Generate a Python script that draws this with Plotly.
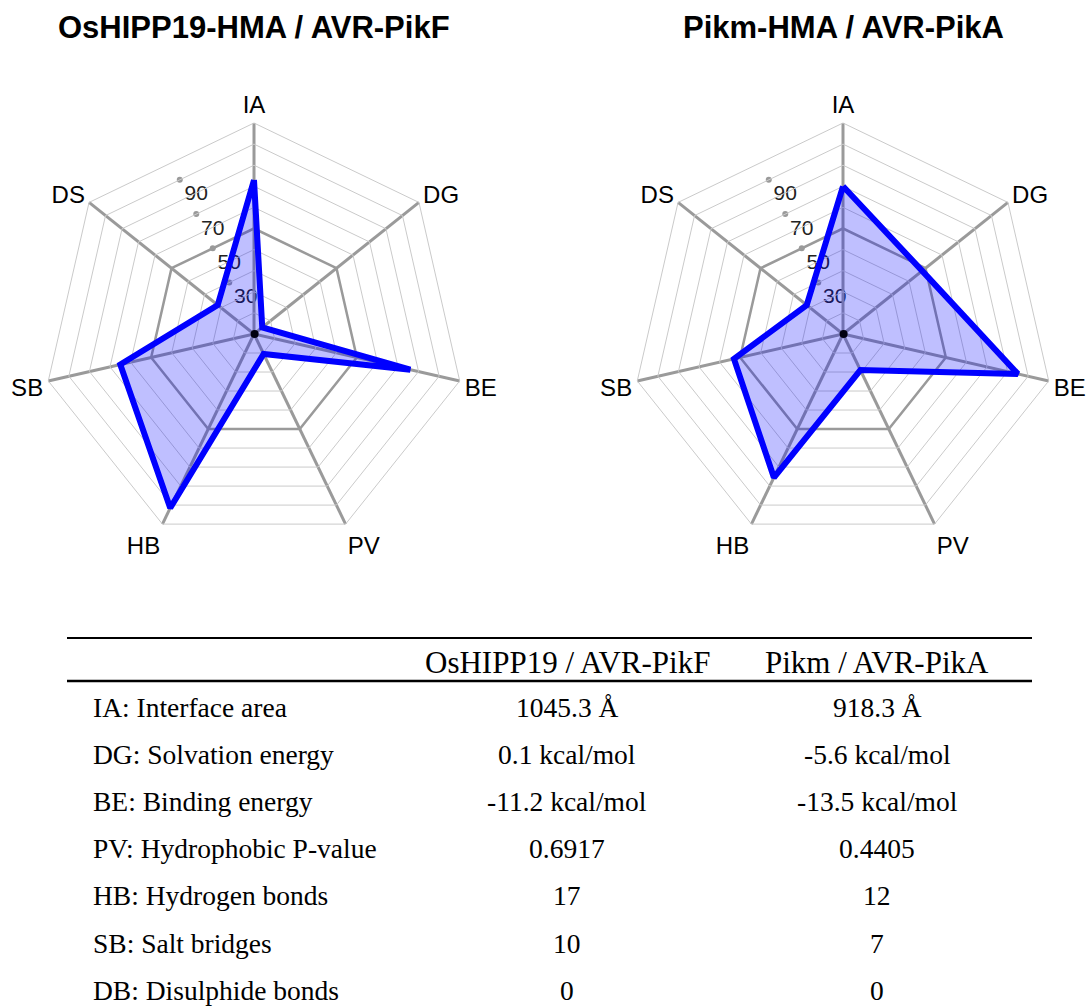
import math
import plotly.graph_objects as go

# Radar axes (clockwise from the top)
axes = ["IA", "DG", "BE", "PV", "HB", "SB", "DS"]

# Normalised interface scores (0-100) for each complex
oshipp19_scores = [73, 5, 76, 10.5, 91.5, 65, 22]
pikm_scores = [70, 48, 85, 19, 75.5, 53, 22]

panel_titles = ["OsHIPP19-HMA / AVR-PikF", "Pikm-HMA / AVR-PikA"]

# Radial grid
ring_levels = [10, 20, 30, 40, 60, 70, 80, 90]
major_ring = 50
radial_ticks = [30, 50, 70, 90]

# Table contents
table_header = ["", "OsHIPP19 / AVR-PikF", "Pikm / AVR-PikA"]
row_labels = [
    "IA: Interface area",
    "DG: Solvation energy",
    "BE: Binding energy",
    "PV: Hydrophobic P-value",
    "HB: Hydrogen bonds",
    "SB: Salt bridges",
    "DB: Disulphide bonds",
]
oshipp19_values = ["1045.3 Å", "0.1 kcal/mol", "-11.2 kcal/mol", "0.6917", "17", "10", "0"]
pikm_values = ["918.3 Å", "-5.6 kcal/mol", "-13.5 kcal/mol", "0.4405", "12", "7", "0"]

W, H = 1089, 1007
RADIUS = 211
CENTER_Y = 334
CENTERS_X = [254, 843]

SPOKE = "#9a9a9a"
THIN = "#cacaca"
ARIAL = "Arial, Liberation Sans, sans-serif"

n = len(axes)
# the radial scale is labelled half-way between the IA and DS spokes,
# where the polygonal rings are pulled in by cos(pi/n)
label_angle = 90 + 180 / n
edge_factor = math.cos(math.pi / n)
# tiny negative floor so the pole marker at r=0 sits inside the scale
scale_floor = -0.3

fig = go.Figure()


def closed(values):
    return list(values) + [values[0]]


theta_closed = closed(axes)
label_subplots = ["polar", "polar2"]
chart_subplots = ["polar3", "polar4"]

# Radial scale labels and pole marker
for sub in label_subplots:
    fig.add_trace(go.Scatterpolar(
        r=radial_ticks, theta=[label_angle] * len(radial_ticks),
        mode="markers+text", text=[str(t) for t in radial_ticks],
        textposition="bottom right",
        textfont=dict(family=ARIAL, size=21, color="#222"),
        marker=dict(color=SPOKE, size=6), hoverinfo="skip",
        showlegend=False, subplot=sub, cliponaxis=False))

for i, scores in enumerate([oshipp19_scores, pikm_scores]):
    sub = chart_subplots[i]
    for lvl in ring_levels:
        fig.add_trace(go.Scatterpolar(
            r=[lvl] * len(theta_closed), theta=theta_closed, mode="lines",
            line=dict(color=THIN, width=1), hoverinfo="skip", showlegend=False,
            subplot=sub))
    fig.add_trace(go.Scatterpolar(
        r=[major_ring] * len(theta_closed), theta=theta_closed, mode="lines",
        line=dict(color=SPOKE, width=2.5), hoverinfo="skip", showlegend=False,
        subplot=sub))
    fig.add_trace(go.Scatterpolar(
        r=closed(scores), theta=theta_closed, mode="lines", fill="toself",
        fillcolor="rgba(0,0,255,0.25)", line=dict(color="#0000ff", width=6),
        showlegend=False, subplot=sub, name=panel_titles[i]))

# pole marker, on top of everything
for sub in ["polar5", "polar6"]:
    fig.add_trace(go.Scatterpolar(
        r=[0], theta=[0], mode="markers",
        marker=dict(color="#000010", size=8), hoverinfo="skip",
        showlegend=False, subplot=sub))

chart_polar = dict(
    gridshape="linear",
    bgcolor="rgba(0,0,0,0)",
    angularaxis=dict(
        type="category", categoryarray=axes, rotation=90, direction="clockwise",
        showgrid=True, gridcolor=SPOKE, gridwidth=2.5,
        showline=True, linecolor=THIN, linewidth=1, ticks="",
        tickfont=dict(family=ARIAL, size=24, color="#000"),
    ),
    radialaxis=dict(range=[0, 100], showgrid=False, showline=False,
                    showticklabels=False, ticks=""),
)

label_polar = dict(
    bgcolor="rgba(0,0,0,0)",
    angularaxis=dict(visible=False, rotation=0, direction="counterclockwise"),
    radialaxis=dict(range=[0, 100 / edge_factor], visible=False),
)

pole_polar = dict(
    bgcolor="rgba(0,0,0,0)",
    angularaxis=dict(visible=False),
    radialaxis=dict(range=[scale_floor, 100], visible=False),
)


def domain(cx):
    return dict(
        x=[(cx - RADIUS) / W, (cx + RADIUS) / W],
        y=[1 - (CENTER_Y + RADIUS) / H, 1 - (CENTER_Y - RADIUS) / H],
    )


fig.update_layout(
    width=W, height=H, margin=dict(l=0, r=0, t=0, b=0),
    paper_bgcolor="white", plot_bgcolor="white",
    polar=dict(domain=domain(CENTERS_X[0]), **label_polar),
    polar2=dict(domain=domain(CENTERS_X[1]), **label_polar),
    polar3=dict(domain=domain(CENTERS_X[0]), **chart_polar),
    polar4=dict(domain=domain(CENTERS_X[1]), **chart_polar),
    polar5=dict(domain=domain(CENTERS_X[0]), **pole_polar),
    polar6=dict(domain=domain(CENTERS_X[1]), **pole_polar),
)

annotations = []
for cx, title in zip(CENTERS_X, panel_titles):
    annotations.append(dict(
        text=f"<b>{title}</b>", x=cx / W, y=1 - 28 / H, xref="paper", yref="paper",
        showarrow=False, xanchor="center", yanchor="middle",
        font=dict(family=ARIAL, size=31, color="#000")))

SERIF = "Liberation Serif, Times New Roman, serif"
COL_X = [91, 567, 877]
HEADER_Y = 662
ROW_Y0, ROW_STEP = 707, 47.2

for j, txt in enumerate(table_header[1:], start=1):
    annotations.append(dict(
        text=txt, x=COL_X[j] / W, y=1 - HEADER_Y / H, xref="paper", yref="paper",
        showarrow=False, xanchor="center", yanchor="middle",
        font=dict(family=SERIF, size=31, color="#000")))

for k, (lab, v1, v2) in enumerate(zip(row_labels, oshipp19_values, pikm_values)):
    y = 1 - (ROW_Y0 + k * ROW_STEP) / H
    annotations.append(dict(
        text=lab, x=COL_X[0] / W, y=y, xref="paper", yref="paper",
        showarrow=False, xanchor="left", yanchor="middle",
        font=dict(family=SERIF, size=27.5, color="#000")))
    for cx, v in zip(COL_X[1:], (v1, v2)):
        annotations.append(dict(
            text=v, x=cx / W, y=y, xref="paper", yref="paper",
            showarrow=False, xanchor="center", yanchor="middle",
            font=dict(family=SERIF, size=27.5, color="#000")))

fig.update_layout(annotations=annotations)

# Table rules
fig.add_shape(type="line", xref="paper", yref="paper",
              x0=67 / W, x1=1032 / W, y0=1 - 638 / H, y1=1 - 638 / H,
              line=dict(color="#000", width=2))
fig.add_shape(type="line", xref="paper", yref="paper",
              x0=67 / W, x1=1032 / W, y0=1 - 681 / H, y1=1 - 681 / H,
              line=dict(color="#000", width=2.5))

fig.write_html("out.html")
